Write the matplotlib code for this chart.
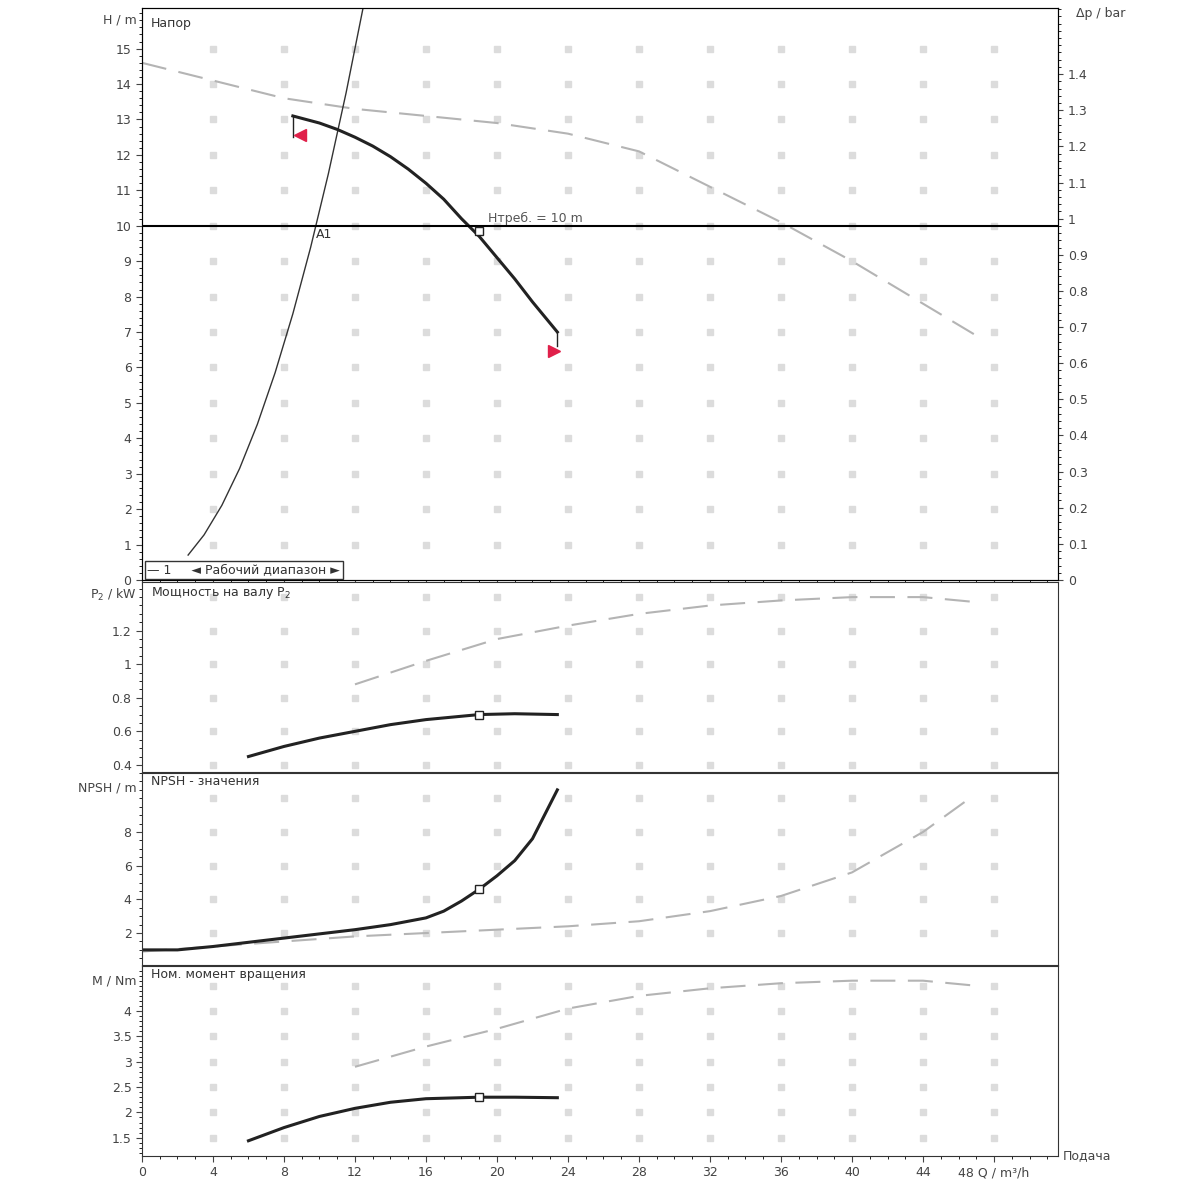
import matplotlib
matplotlib.use("Agg")
import matplotlib.pyplot as plt
from matplotlib.ticker import FuncFormatter
import numpy as np

# ---- data ----
q_sys = [2.6, 3.5, 4.5, 5.5, 6.5, 7.5, 8.5, 9.5, 10.5, 11.5, 12.6]
h_sys = [0.104 * q**2 for q in q_sys]

q_pump = [8.5, 10, 11, 12, 13, 14, 15, 16, 17, 18, 18.5, 19, 20, 21, 22, 23.4]
h_pump = [13.1, 12.9, 12.72, 12.5, 12.25, 11.95, 11.6, 11.2, 10.75, 10.2, 9.95, 9.7, 9.1, 8.5, 7.85, 7.0]

q_max = [0, 4, 8, 12, 16, 20, 24, 28, 32, 36, 40, 44, 47]
h_max = [14.6, 14.1, 13.6, 13.3, 13.1, 12.9, 12.6, 12.1, 11.1, 10.1, 9.0, 7.8, 6.9]

q_p2 = [6, 8, 10, 12, 14, 16, 19, 21, 23.4]
p2 = [0.45, 0.51, 0.56, 0.60, 0.64, 0.67, 0.70, 0.705, 0.70]
q_p2max = [12, 16, 20, 24, 28, 32, 36, 40, 44, 47]
p2max = [0.88, 1.02, 1.15, 1.23, 1.30, 1.35, 1.38, 1.40, 1.40, 1.37]

q_npsh = [0, 2, 4, 8, 12, 14, 16, 17, 18, 19, 20, 21, 22, 23.4]
npsh = [1.0, 1.0, 1.2, 1.7, 2.2, 2.5, 2.9, 3.3, 3.9, 4.6, 5.4, 6.3, 7.6, 10.5]
q_npshmax = [0, 4, 8, 12, 16, 20, 24, 28, 32, 36, 40, 44, 46.5]
npshmax = [0.9, 1.2, 1.5, 1.8, 2.0, 2.2, 2.4, 2.7, 3.3, 4.2, 5.6, 8.0, 9.9]

q_m = [6, 8, 10, 12, 14, 16, 19, 21, 23.4]
m = [1.44, 1.7, 1.92, 2.08, 2.2, 2.27, 2.3, 2.3, 2.29]
q_mmax = [12, 16, 20, 24, 28, 32, 36, 40, 44, 47]
mmax = [2.9, 3.3, 3.65, 4.05, 4.3, 4.45, 4.55, 4.6, 4.6, 4.5]

q_op, h_op, p_op, n_op, m_op = 19, 9.85, 0.70, 4.6, 2.3
h_req = 10
x_ticks = list(range(0, 49, 4))

# ---- figure ----
fig = plt.figure(figsize=(12, 12), dpi=100)
L, W = 0.1183, 0.7633
axH = fig.add_axes([L, 0.5167, W, 0.4767])
axP = fig.add_axes([L, 0.3567, W, 0.1583], sharex=axH)
axN = fig.add_axes([L, 0.1958, W, 0.16], sharex=axH)
axM = fig.add_axes([L, 0.0367, W, 0.1583], sharex=axH)

grey = '#b4b4b4'
dash = (0, (12, 6))
fs = 9
fmt = FuncFormatter(lambda v, p: '%g' % v)

def dotgrid(ax, yt):
    xx, yy = np.meshgrid(x_ticks[1:], yt)
    ax.plot(xx.ravel(), yy.ravel(), ls='none', marker='s', ms=5, color='#dcdcdc', zorder=0)

for ax in (axH, axP, axN, axM):
    ax.set_xlim(0, 51.6)
    ax.tick_params(labelsize=fs, colors='#444', direction='out', length=4)
    ax.minorticks_on()
    ax.tick_params(which='minor', length=2)
    for s in ax.spines.values():
        s.set_color('#333')
    ax.set_xticks(x_ticks)
    ax.yaxis.set_major_formatter(fmt)
for ax in (axH, axP, axN):
    ax.tick_params(labelbottom=False)

# H panel
axH.set_ylim(0, 16.15)
axH.set_yticks(range(0, 16))
dotgrid(axH, range(1, 16))
axH.plot(q_max, h_max, color=grey, ls=dash, lw=1.5)
axH.plot(q_sys, h_sys, color='#333', lw=1)
axH.plot(q_pump, h_pump, color='#222', lw=2.2)
axH.plot([q_pump[0], q_pump[0]], [h_pump[0], 12.5], color='#222', lw=1)
axH.plot([q_pump[-1], q_pump[-1]], [h_pump[-1], 6.6], color='#222', lw=1)
axH.axhline(h_req, color='black', lw=1.5)
axH.plot([q_op], [h_op], marker='s', mfc='white', mec='#222', ms=6)
axH.plot([8.9], [12.55], marker='<', color='#e0204a', ms=9)
axH.plot([23.2], [6.45], marker='>', color='#e0204a', ms=9)
axH.text(19.5, 10.1, 'Нтреб. = 10 m', fontsize=fs, color='#555')
axH.text(9.8, 9.65, 'A1', fontsize=fs, color='#333')
axH.text(0.5, 15.9, 'Напор', fontsize=fs, color='#333', va='top')
axH.text(-0.3, 15.8, 'H / m', fontsize=fs, color='#444', ha='right', va='center')
axH.text(0.3, 0.28, '— 1     ◄ Рабочий диапазон ►', fontsize=fs, color='#333', va='center',
         bbox=dict(facecolor='white', edgecolor='#333', pad=2))
axH2 = axH.twinx()
axH2.set_ylim(0, 16.15 / 10.2)
axH2.set_yticks(np.round(np.arange(0, 1.45, 0.1), 1))
axH2.yaxis.set_major_formatter(fmt)
axH2.minorticks_on()
axH2.tick_params(labelsize=fs, colors='#444')
axH2.tick_params(which='minor', length=2)
axH2.text(1.02, 0.985, 'Δp / bar', transform=axH.transAxes, fontsize=fs, color='#444')

# Power
axP.set_ylim(0.358, 1.49)
axP.set_yticks([0.4, 0.6, 0.8, 1, 1.2])
dotgrid(axP, [0.4, 0.6, 0.8, 1, 1.2, 1.4])
axP.plot(q_p2max, p2max, color=grey, ls=dash, lw=1.5)
axP.plot(q_p2, p2, color='#222', lw=2.2)
axP.plot([q_op], [p_op], marker='s', mfc='white', mec='#222', ms=6)
axP.text(0.5, 1.47, 'Мощность на валу P$_2$', fontsize=fs, color='#333', va='top')
axP.text(-0.3, 1.41, 'P$_2$ / kW', fontsize=fs, color='#444', ha='right', va='center')

# NPSH
axN.set_ylim(0.1, 11.5)
axN.set_yticks([2, 4, 6, 8])
dotgrid(axN, [2, 4, 6, 8, 10])
axN.plot(q_npshmax, npshmax, color=grey, ls=dash, lw=1.5)
axN.plot(q_npsh, npsh, color='#222', lw=2.2)
axN.plot([q_op], [n_op], marker='s', mfc='white', mec='#222', ms=6)
axN.text(0.5, 11.4, 'NPSH - значения', fontsize=fs, color='#333', va='top')
axN.text(-0.3, 10.6, 'NPSH / m', fontsize=fs, color='#444', ha='right', va='center')

# Torque
axM.set_ylim(1.14, 4.89)
axM.set_yticks([1.5, 2, 2.5, 3, 3.5, 4])
dotgrid(axM, [1.5, 2, 2.5, 3, 3.5, 4, 4.5])
axM.plot(q_mmax, mmax, color=grey, ls=dash, lw=1.5)
axM.plot(q_m, m, color='#222', lw=2.2)
axM.plot([q_op], [m_op], marker='s', mfc='white', mec='#222', ms=6)
axM.text(0.5, 4.85, 'Ном. момент вращения', fontsize=fs, color='#333', va='top')
axM.text(-0.3, 4.6, 'M / Nm', fontsize=fs, color='#444', ha='right', va='center')
labels = [str(t) for t in x_ticks]
labels[-1] = '48 Q / m³/h'
axM.set_xticklabels(labels)
axM.text(1.005, 0.0, 'Подача', transform=axM.transAxes, fontsize=fs, color='#444', va='center')

fig.savefig('out.png', dpi=100)
